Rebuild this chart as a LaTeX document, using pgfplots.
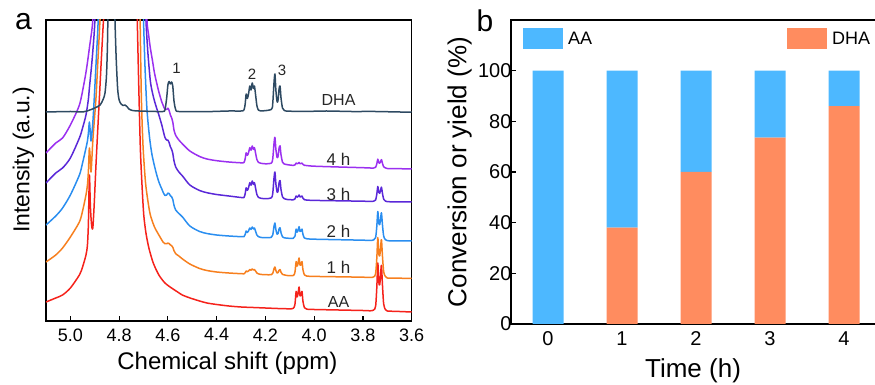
\documentclass[border=0pt]{standalone}
\usepackage{pgfplots}
\pgfplotsset{compat=1.18}
\usepackage{fontspec}
\setmainfont{Liberation Sans}

\definecolor{cAA}{HTML}{F5221B}
\definecolor{cOne}{HTML}{F77F1E}
\definecolor{cTwo}{HTML}{2A8EF0}
\definecolor{cThree}{HTML}{5A28D8}
\definecolor{cFour}{HTML}{9B30F0}
\definecolor{cDHA}{HTML}{2E4A62}
\definecolor{barAA}{HTML}{4DB8FF}
\definecolor{barDHA}{HTML}{FF8C5F}

\newcommand\fs[1]{\fontsize{#1}{#1}\selectfont}

\begin{document}
\begin{tikzpicture}[x=1pt,y=1pt]
% ---------------- (a) 1H NMR spectra, stacked with offsets ----------------
\begin{axis}[
  name=pa, at={(46pt,64pt)}, anchor=south west, scale only axis,
  width=365.7pt, height=301pt,
  xmin=3.6, xmax=5.1, ymin=0, ymax=301, x dir=reverse,
  xtick={3.6,3.8,4.0,4.2,4.4,4.6,4.8,5.0}, ytick=\empty,
  tick align=inside, xtick pos=bottom, major tick length=5pt,
  axis line style={line width=1.2pt}, tick style={line width=1.2pt, black},
  xticklabel style={font=\fs{18}, yshift=-4pt,
    /pgf/number format/fixed, /pgf/number format/fixed zerofill,
    /pgf/number format/precision=1},
  /pgf/number format/assume math mode=true,
  xlabel={Chemical shift (ppm)},
  xlabel style={font=\fs{24}, at={(axis description cs:0.496,-0.14)}, anchor=center},
  ylabel={Intensity (a.u.)},
  ylabel style={font=\fs{23}, at={(axis description cs:-0.0616,0.535)}, anchor=center},
  every axis plot/.append style={line width=1.5pt, line join=round, smooth, tension=0.45},
]
% AA
\addplot[cAA] coordinates {(5.10,19) (5.06,23) (5.032,26) (5.00,33) (4.963,46) (4.950,54) (4.936,66) (4.930,76) (4.926,98) (4.922,146) (4.918,115) (4.913,96) (4.908,93) (4.902,118) (4.895,156) (4.888,190) (4.881,223) (4.874,257) (4.867,289) (4.862,312) (4.858,350) (4.730,350) (4.726,305) (4.720,240) (4.713,173) (4.706,135) (4.699,106) (4.690,88) (4.678,73) (4.660,58) (4.637,46) (4.612,38) (4.585,33) (4.560,29) (4.541,26) (4.509,23) (4.470,20) (4.440,18) (4.400,16.5) (4.350,15) (4.300,14) (4.250,13.5) (4.200,13) (4.150,12.5) (4.100,12.2) (4.086,12.7) (4.079,16.4) (4.074,29.6) (4.070,24.1) (4.066,27.4) (4.062,34) (4.058,25.2) (4.054,26.3) (4.050,29.6) (4.046,19.7) (4.040,13.3) (4.030,11.8) (4.000,11.5) (3.900,11) (3.800,10.5) (3.770,10.2) (3.756,11) (3.748,14.8) (3.743,34) (3.739,58) (3.735,38.8) (3.731,36.4) (3.727,48.4) (3.724,55.6) (3.720,36.4) (3.715,17.2) (3.708,11.4) (3.700,10) (3.650,9.5) (3.600,9)};
% 1 h
\addplot[cOne] coordinates {(5.10,59) (5.06,66) (5.032,73) (5.00,84) (4.963,99) (4.950,110) (4.936,126) (4.930,136) (4.926,150) (4.922,173) (4.918,160) (4.915,149) (4.908,180) (4.902,200) (4.895,223) (4.888,256) (4.881,289) (4.876,315) (4.872,350) (4.718,350) (4.714,301) (4.709,225) (4.702,175) (4.692,139) (4.682,120) (4.672,106) (4.655,94) (4.637,86) (4.625,81) (4.620,79) (4.612,77.3) (4.605,77.3) (4.600,77.9) (4.595,77.5) (4.590,76.1) (4.585,75.4) (4.580,73.8) (4.575,70.3) (4.568,67.3) (4.555,65) (4.540,62) (4.510,57) (4.470,52.5) (4.440,50.5) (4.400,49) (4.350,48) (4.300,47.3) (4.288,47.2) (4.283,48.3) (4.279,50) (4.274,49.3) (4.269,50.1) (4.264,51.5) (4.259,50.8) (4.254,52) (4.249,51) (4.245,51.5) (4.240,49.8) (4.235,48) (4.229,47.2) (4.220,46.6) (4.200,46.3) (4.176,46.3) (4.170,47.6) (4.165,52) (4.161,54) (4.157,50.4) (4.152,48) (4.148,48.4) (4.144,50.8) (4.140,51.4) (4.136,48.8) (4.130,46.6) (4.124,46.2) (4.110,45.5) (4.086,45.5) (4.079,48.6) (4.074,59.4) (4.070,54.9) (4.066,57.6) (4.062,63) (4.058,55.8) (4.054,56.7) (4.050,59.4) (4.046,51.3) (4.040,46.1) (4.030,44.9) (4.000,44.6) (3.900,44.2) (3.800,43.8) (3.770,43.5) (3.756,44.1) (3.748,47.3) (3.743,63.3) (3.739,83.3) (3.735,67.3) (3.731,65.3) (3.727,75.3) (3.724,81.3) (3.720,65.3) (3.715,49.3) (3.708,44.5) (3.700,43) (3.650,42.8) (3.600,42.5)};
% 2 h
\addplot[cTwo] coordinates {(5.10,96) (5.06,105) (5.032,113) (5.00,126) (4.963,146) (4.950,158) (4.936,173) (4.930,180) (4.926,188) (4.922,199) (4.918,188) (4.915,180) (4.908,198) (4.902,223) (4.895,256) (4.888,289) (4.883,318) (4.879,350) (4.705,350) (4.700,301) (4.694,255) (4.686,212) (4.675,183) (4.665,166) (4.650,150) (4.637,139) (4.625,132) (4.620,129) (4.612,125.5) (4.605,126) (4.600,127.9) (4.595,127.5) (4.590,125.3) (4.585,124.3) (4.580,121.7) (4.575,115.7) (4.568,111) (4.555,107.5) (4.540,104) (4.510,95) (4.470,89.5) (4.440,87.5) (4.400,86) (4.350,85) (4.300,84.3) (4.288,84.3) (4.283,86.5) (4.279,90) (4.274,88.5) (4.269,90.2) (4.264,93) (4.259,91.5) (4.254,94) (4.249,92) (4.245,93) (4.240,89.5) (4.235,86) (4.229,84.4) (4.220,83.6) (4.200,83.3) (4.176,83.6) (4.170,86) (4.165,94.3) (4.161,98) (4.157,91.3) (4.152,86.8) (4.148,87.5) (4.144,92) (4.140,93.2) (4.136,88.3) (4.130,84.2) (4.124,83.3) (4.110,82.8) (4.086,82.7) (4.079,84.7) (4.074,91.9) (4.070,88.9) (4.066,90.7) (4.062,94.3) (4.058,89.5) (4.054,90.1) (4.050,91.9) (4.046,86.5) (4.040,83) (4.030,82.2) (4.000,81.8) (3.900,81.3) (3.800,80.8) (3.770,80.6) (3.756,81.1) (3.748,83.4) (3.743,95) (3.739,109.5) (3.735,97.9) (3.731,96.5) (3.727,103.7) (3.724,108.1) (3.720,96.5) (3.715,84.9) (3.708,81.4) (3.700,80.3) (3.650,80.1) (3.600,80)};
% 3 h
\addplot[cThree] coordinates {(5.10,138) (5.06,148) (5.032,153) (5.00,163) (4.963,183) (4.950,193) (4.936,206) (4.926,222) (4.922,233) (4.912,258) (4.902,289) (4.897,315) (4.893,350) (4.695,350) (4.690,301) (4.682,268) (4.672,240) (4.664,229) (4.655,220) (4.645,212) (4.637,206) (4.625,196) (4.620,191) (4.612,183.5) (4.605,181) (4.600,180.9) (4.595,178.5) (4.590,174.3) (4.585,171.8) (4.580,167.7) (4.575,160.2) (4.568,154) (4.555,149) (4.540,145) (4.510,136) (4.470,130.5) (4.440,128.3) (4.400,126.5) (4.350,125) (4.300,123.5) (4.288,123.5) (4.283,127.3) (4.279,133.2) (4.274,130.7) (4.269,133.5) (4.264,138.3) (4.259,135.8) (4.254,140) (4.249,136.6) (4.245,138.3) (4.240,132.4) (4.235,126.4) (4.229,123.7) (4.220,122.8) (4.200,122.3) (4.176,123.1) (4.170,127.4) (4.165,142.3) (4.161,149) (4.157,136.9) (4.152,128.8) (4.148,130.1) (4.144,138.2) (4.140,140.4) (4.136,131.5) (4.130,124.2) (4.124,122.5) (4.110,121.5) (4.086,121.2) (4.079,122) (4.074,125) (4.070,123.8) (4.066,124.5) (4.062,126) (4.058,124) (4.054,124.3) (4.050,125) (4.046,122.8) (4.040,121.3) (4.030,120.9) (4.000,120.6) (3.900,120.2) (3.800,119.8) (3.770,119.6) (3.756,119.8) (3.748,121) (3.743,127) (3.739,134.5) (3.735,128.5) (3.731,127.8) (3.727,131.5) (3.724,133.8) (3.720,127.8) (3.715,121.8) (3.708,120) (3.700,119.3) (3.650,119.2) (3.600,119)};
% 4 h
\addplot[cFour] coordinates {(5.10,168) (5.06,178) (5.032,183) (5.00,196) (4.963,216) (4.943,239) (4.932,255) (4.922,273) (4.910,295) (4.903,320) (4.898,350) (4.692,350) (4.686,301) (4.679,286) (4.672,273) (4.663,260) (4.655,248) (4.645,237) (4.637,229) (4.625,219) (4.620,216) (4.612,211.5) (4.605,211.5) (4.600,212.8) (4.595,210.5) (4.590,206.2) (4.585,203.3) (4.580,199) (4.575,191) (4.568,185.6) (4.555,181) (4.540,177) (4.510,170) (4.470,164.5) (4.440,162) (4.400,160.3) (4.350,159) (4.300,158.2) (4.288,158.5) (4.283,162.3) (4.279,168.2) (4.274,165.7) (4.269,168.5) (4.264,173.3) (4.259,170.8) (4.254,175) (4.249,171.6) (4.245,173.3) (4.240,167.4) (4.235,161.4) (4.229,158.7) (4.220,157.8) (4.200,157.2) (4.176,157.8) (4.170,162.1) (4.165,177) (4.161,183.7) (4.157,171.6) (4.152,163.5) (4.148,164.8) (4.144,172.9) (4.140,175.1) (4.136,166.2) (4.130,158.9) (4.124,157.2) (4.110,156.3) (4.086,155.6) (4.079,156.1) (4.074,157.9) (4.070,157.2) (4.066,157.6) (4.062,158.5) (4.058,157.3) (4.054,157.5) (4.050,157.9) (4.046,156.6) (4.040,155.7) (4.030,155.4) (4.000,154.8) (3.900,154) (3.800,153.3) (3.770,153) (3.756,153) (3.748,153.7) (3.743,157.3) (3.739,161.8) (3.735,158.2) (3.731,157.8) (3.727,160) (3.724,161.4) (3.720,157.8) (3.715,154.2) (3.708,153.1) (3.700,152.5) (3.650,152.3) (3.600,152)};
% DHA reference
\addplot[cDHA] coordinates {(5.10,209) (5.00,209.5) (4.95,209) (4.92,211) (4.90,213) (4.878,216) (4.865,222) (4.858,228) (4.852,245) (4.848,275) (4.845,320) (4.842,350) (4.820,350) (4.817,301) (4.812,262) (4.806,232) (4.800,221) (4.792,217) (4.784,215.5) (4.776,216) (4.768,214.5) (4.760,212) (4.745,210.5) (4.72,210) (4.65,209.5) (4.62,209.5) (4.612,211) (4.605,223) (4.600,236) (4.595,239.5) (4.590,237) (4.585,239) (4.580,235) (4.575,220) (4.568,211.5) (4.555,209.5) (4.45,209.3) (4.35,210) (4.30,210) (4.288,211) (4.283,217) (4.279,227) (4.274,222.5) (4.269,227.5) (4.264,235) (4.259,231) (4.254,238) (4.249,232.5) (4.245,235) (4.240,225.5) (4.235,215.5) (4.229,211) (4.22,210) (4.176,211.5) (4.170,217.5) (4.165,237.5) (4.161,247) (4.157,230.5) (4.152,219) (4.148,221) (4.144,232) (4.140,235) (4.136,223) (4.130,213) (4.124,211) (4.115,210) (4.05,209.5) (3.95,210) (3.85,209.5) (3.75,209.5) (3.65,209) (3.60,209)};

\node[font=\fs{16}, text=black!85] at (axis cs:3.90,221) {DHA};
\node[font=\fs{17}, text=black!85] at (axis cs:3.90,162) {4 h};
\node[font=\fs{17}, text=black!85] at (axis cs:3.90,127) {3 h};
\node[font=\fs{17}, text=black!85] at (axis cs:3.90,90) {2 h};
\node[font=\fs{17}, text=black!85] at (axis cs:3.90,53.5) {1 h};
\node[font=\fs{16}, text=black!85] at (axis cs:3.90,19) {AA};
\node[font=\fs{15}, text=black!85] at (axis cs:4.565,253) {1};
\node[font=\fs{15}, text=black!85] at (axis cs:4.255,247) {2};
\node[font=\fs{15}, text=black!85] at (axis cs:4.132,251) {3};
\end{axis}

% ---------------- (b) conversion of AA and yield of DHA ----------------
\begin{axis}[
  name=pb, at={(511pt,61pt)}, anchor=south west, scale only axis,
  width=370pt, height=304pt,
  xmin=-0.5, xmax=4.5, ymin=0, ymax=120,
  xtick={0,1,2,3,4}, ytick={0,20,40,60,80,100},
  ybar stacked, bar width=31pt,
  tick align=inside, xtick pos=bottom, ytick pos=left, major tick length=5pt,
  axis line style={line width=1.2pt}, tick style={line width=1.2pt, black},
  ticklabel style={font=\fs{20}},
  yticklabel style={xshift=4pt}, xticklabel style={yshift=-4pt},
  /pgf/number format/assume math mode=true,
  xlabel={Time (h)},
  xlabel style={font=\fs{26}, at={(axis description cs:0.492,-0.155)}, anchor=center},
  ylabel={Conversion or yield (\%)},
  ylabel style={font=\fs{26}, at={(axis description cs:-0.139,0.5)}, anchor=center},
  legend columns=2, reverse legend,
  legend style={at={(axis description cs:0.0325,0.9737)}, anchor=north west,
    draw=none, fill=none, inner sep=0pt, font=\fs{18},
    nodes={inner sep=0pt, anchor=west}, column sep=0pt,
    /tikz/every odd column/.append style={column sep=5pt},
    /tikz/every even column/.append style={column sep=195pt}},
  legend image code/.code={\fill[#1] (0pt,-10.5pt) rectangle (40pt,10.5pt);},
]
\addplot[fill=barDHA, draw=none] coordinates {(0,0) (1,38) (2,60) (3,73.6) (4,86)};
\addlegendentry{DHA}
\addplot[fill=barAA, draw=none] coordinates {(0,100) (1,62) (2,40) (3,26.4) (4,14)};
\addlegendentry{AA}
\end{axis}

\node[font=\fs{30}] at (23.5,363.5) {a};
\node[font=\fs{30}] at (485,364) {b};

\pgfresetboundingbox
\path[use as bounding box] (0,0) rectangle (875,385);
\end{tikzpicture}
\end{document}
